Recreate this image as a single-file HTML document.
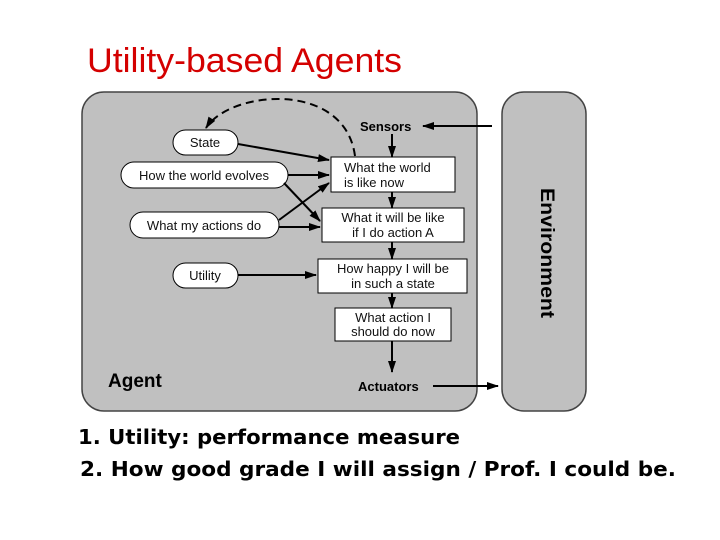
<!DOCTYPE html>
<html><head><meta charset="utf-8"><style>html,body{margin:0;padding:0;background:#fff}svg{display:block}</style></head>
<body>
<svg width="720" height="540" viewBox="0 0 720 540" xmlns="http://www.w3.org/2000/svg" font-family="Liberation Sans, sans-serif">
<defs>
<marker id="a" markerWidth="12" markerHeight="8" refX="11" refY="4" orient="auto" markerUnits="userSpaceOnUse"><path d="M0,0 L12,4 L0,8 z" fill="#000"/></marker>
</defs>
<text x="87" y="72" font-size="34" fill="#d40000" textLength="315" lengthAdjust="spacingAndGlyphs">Utility-based Agents</text>
<rect x="82" y="92" width="395" height="319" rx="22" fill="#c0c0c0" stroke="#444" stroke-width="1.5"/>
<rect x="502" y="92" width="84" height="319" rx="22" fill="#c0c0c0" stroke="#444" stroke-width="1.5"/>
<text transform="translate(541,188) rotate(90)" font-size="19" font-weight="bold" textLength="130" lengthAdjust="spacingAndGlyphs">Environment</text>
<text x="108" y="387" font-size="19" font-weight="bold">Agent</text>
<text x="360" y="131" font-size="13" font-weight="bold">Sensors</text>
<text x="358" y="391" font-size="13" font-weight="bold">Actuators</text>
<g fill="#fff" stroke="#000" stroke-width="1">
<rect x="173" y="130" width="65" height="25" rx="12.5"/>
<rect x="121" y="162" width="167" height="26" rx="13"/>
<rect x="130" y="212" width="149" height="26" rx="13"/>
<rect x="173" y="263" width="65" height="25" rx="12.5"/>
<rect x="331" y="157" width="124" height="35"/>
<rect x="322" y="208" width="142" height="34"/>
<rect x="318" y="259" width="149" height="34"/>
<rect x="335" y="308" width="116" height="33"/>
</g>
<g font-size="13" fill="#111">
<text x="205" y="147" text-anchor="middle">State</text>
<text x="204" y="180" text-anchor="middle">How the world evolves</text>
<text x="204" y="230" text-anchor="middle">What my actions do</text>
<text x="205" y="280" text-anchor="middle">Utility</text>
<text x="344" y="172">What the world</text>
<text x="344" y="187">is like now</text>
<text x="393" y="222" text-anchor="middle">What it will be like</text>
<text x="393" y="237" text-anchor="middle">if I do action A</text>
<text x="393" y="273" text-anchor="middle">How happy I will be</text>
<text x="393" y="288" text-anchor="middle">in such a state</text>
<text x="393" y="322" text-anchor="middle">What action I</text>
<text x="393" y="336" text-anchor="middle">should do now</text>
</g>
<g stroke="#000" stroke-width="2" fill="none" marker-end="url(#a)">
<line x1="492" y1="126" x2="423" y2="126"/>
<line x1="392" y1="134" x2="392" y2="157"/>
<line x1="392" y1="192" x2="392" y2="208"/>
<line x1="392" y1="242" x2="392" y2="259"/>
<line x1="392" y1="293" x2="392" y2="308"/>
<line x1="392" y1="341" x2="392" y2="372"/>
<line x1="433" y1="386" x2="498" y2="386"/>
<line x1="238" y1="144" x2="329" y2="160"/>
<line x1="288" y1="175" x2="329" y2="175"/>
<line x1="284" y1="183" x2="320" y2="221"/>
<line x1="279" y1="220" x2="329" y2="183"/>
<line x1="279" y1="227" x2="320" y2="227"/>
<line x1="238" y1="275" x2="316" y2="275"/>
<path d="M355,156 C345,80 230,90 206,128" stroke-dasharray="8,5"/>
</g>
<g font-size="20" font-weight="bold" font-family="DejaVu Sans, sans-serif" fill="#000">
<text x="78" y="444" textLength="382" lengthAdjust="spacingAndGlyphs">1. Utility: performance measure</text>
<text x="80" y="476" textLength="596" lengthAdjust="spacingAndGlyphs">2. How good grade I will assign / Prof. I could be.</text>
</g>
</svg>
</body></html>
